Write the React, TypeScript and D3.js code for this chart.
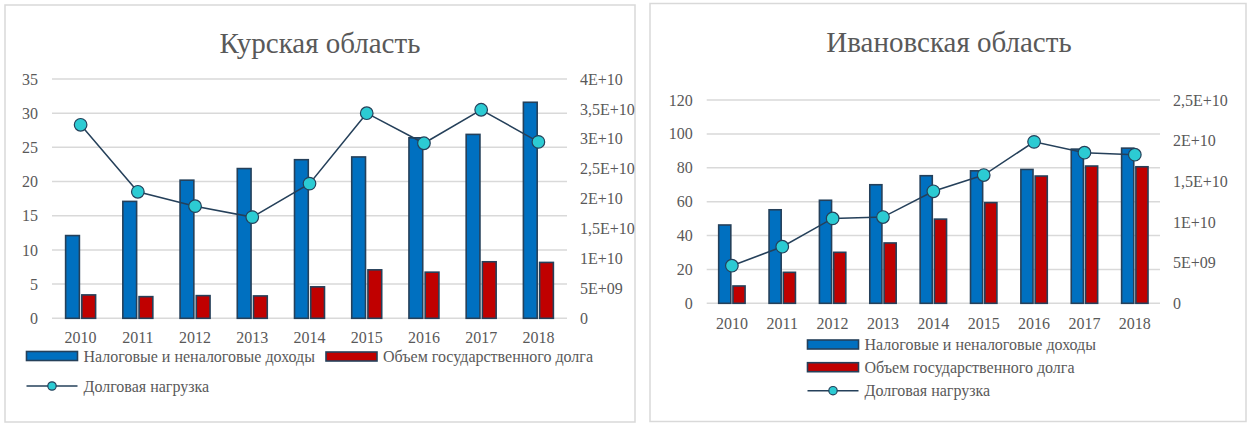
import React from 'react';
import * as d3 from 'd3';

// ---------- data ----------
const years = ['2010', '2011', '2012', '2013', '2014', '2015', '2016', '2017', '2018'];

// Курская область
const kurskTax = [1.383e10, 1.954e10, 2.309e10, 2.503e10, 2.651e10, 2.697e10, 3.017e10, 3.074e10, 3.611e10];
const kurskDebt = [3.91e9, 3.62e9, 3.79e9, 3.74e9, 5.26e9, 8.1e9, 7.71e9, 9.45e9, 9.34e9];
const kurskLoad = [28.3, 18.5, 16.4, 14.8, 19.7, 30.0, 25.6, 30.5, 25.8];

// Ивановская область
const ivanovoTax = [9.63e9, 1.15e10, 1.267e10, 1.458e10, 1.569e10, 1.629e10, 1.646e10, 1.896e10, 1.908e10];
const ivanovoDebt = [2.13e9, 3.81e9, 6.27e9, 7.42e9, 1.035e10, 1.238e10, 1.565e10, 1.688e10, 1.679e10];
const ivanovoLoad = [22.2, 33.4, 50.1, 50.9, 66.1, 75.7, 95.3, 88.9, 87.7];

const seriesNames = ['Налоговые и неналоговые доходы', 'Объем государственного долга', 'Долговая нагрузка'];
const titles = ['Курская область', 'Ивановская область'];

// ---------- styles ----------
const TEXT = '#595959';
const GRID = '#d9d9d9';
const BLUE = '#0070c0';
const RED = '#c00000';
const EDGE = '#25405a';
const CYAN = '#2ccbd3';
const FONT = "'Liberation Serif', 'DejaVu Serif', serif";

function fmtE(v: number): string {
  if (v === 0) return '0';
  const e = Math.floor(Math.log10(v) + 1e-9);
  const m = v / Math.pow(10, e);
  const ms = String(Math.round(m * 10) / 10).replace('.', ',');
  const es = e < 10 ? '0' + e : String(e);
  return `${ms}E+${es}`;
}

type Cfg = {
  title: string;
  titleX: number;
  titleY: number;
  frame: { x: number; y: number; w: number; h: number };
  plot: { left: number; right: number; top: number; bottom: number };
  leftMax: number;
  leftStep: number;
  rightMax: number;
  rightStep: number;
  tax: number[];
  debt: number[];
  load: number[];
  catY: number;
  legend: { x: number; y: number; kind: 'bar' | 'line'; color: string; name: string }[];
};

const txt = (size: number) => ({ fontFamily: FONT, fontSize: size, fill: TEXT });

function Panel({ c }: { c: Cfg }) {
  const x0 = d3
    .scaleBand<string>()
    .domain(years)
    .range([c.plot.left, c.plot.right])
    .paddingInner(0.476)
    .paddingOuter(0.238);
  const x1 = d3.scaleBand<string>().domain(['tax', 'debt']).range([0, x0.bandwidth()]).paddingInner(0.15);
  const yL = d3.scaleLinear().domain([0, c.leftMax]).range([c.plot.bottom, c.plot.top]);
  const yR = d3.scaleLinear().domain([0, c.rightMax]).range([c.plot.bottom, c.plot.top]);
  const leftTicks = d3.range(0, c.leftMax + c.leftStep / 2, c.leftStep);
  const rightTicks = d3.range(0, c.rightMax + c.rightStep / 2, c.rightStep);
  const center = (y: string) => (x0(y) as number) + x0.bandwidth() / 2;
  const line = d3
    .line<number>()
    .x((_, i) => center(years[i]))
    .y((d) => yL(d));

  return (
    <g>
      <rect x={c.frame.x} y={c.frame.y} width={c.frame.w} height={c.frame.h} fill="#fff" stroke={GRID} strokeWidth={1.5} />
      <text x={c.titleX} y={c.titleY} textAnchor="middle" style={txt(29)}>
        {c.title}
      </text>
      {leftTicks.map((t) => (
        <g key={'l' + t}>
          <line x1={c.plot.left} x2={c.plot.right} y1={yL(t)} y2={yL(t)} stroke={GRID} strokeWidth={1.5} />
          <text x={c.plot.left - 14} y={yL(t)} dy="0.35em" textAnchor="end" style={txt(16)}>
            {t}
          </text>
        </g>
      ))}
      {rightTicks.map((t) => (
        <text key={'r' + t} x={c.plot.right + 13} y={yR(t)} dy="0.35em" textAnchor="start" style={txt(16)}>
          {fmtE(t)}
        </text>
      ))}
      {years.map((y, i) => (
        <g key={y}>
          <rect
            x={(x0(y) as number) + (x1('tax') as number)}
            y={yR(c.tax[i])}
            width={x1.bandwidth()}
            height={c.plot.bottom - yR(c.tax[i])}
            fill={BLUE}
            stroke={EDGE}
            strokeWidth={1.6}
          />
          <rect
            x={(x0(y) as number) + (x1('debt') as number)}
            y={yR(c.debt[i])}
            width={x1.bandwidth()}
            height={c.plot.bottom - yR(c.debt[i])}
            fill={RED}
            stroke={EDGE}
            strokeWidth={1.6}
          />
          <text x={center(y)} y={c.catY} dy="0.35em" textAnchor="middle" style={txt(16)}>
            {y}
          </text>
        </g>
      ))}
      <path d={line(c.load) || ''} fill="none" stroke={EDGE} strokeWidth={1.5} />
      {c.load.map((v, i) => (
        <circle key={i} cx={center(years[i])} cy={yL(v)} r={6.3} fill={CYAN} stroke={EDGE} strokeWidth={1.2} />
      ))}
      {c.legend.map((l, i) => (
        <g key={'lg' + i}>
          {l.kind === 'bar' ? (
            <rect x={l.x} y={l.y - 4.5} width={51} height={9} fill={l.color} stroke={EDGE} strokeWidth={1.6} />
          ) : (
            <g>
              <line x1={l.x} x2={l.x + 51} y1={l.y} y2={l.y} stroke={EDGE} strokeWidth={1.5} />
              <circle cx={l.x + 25.5} cy={l.y} r={4.2} fill={CYAN} stroke={EDGE} strokeWidth={1.2} />
            </g>
          )}
          <text x={l.x + 57} y={l.y} dy="0.35em" style={txt(16)}>
            {l.name}
          </text>
        </g>
      ))}
    </g>
  );
}

const kursk: Cfg = {
  title: titles[0],
  titleX: 320,
  titleY: 53,
  frame: { x: 5, y: 5, w: 630, h: 417 },
  plot: { left: 52, right: 567, top: 79, bottom: 318.3 },
  leftMax: 35,
  leftStep: 5,
  rightMax: 4e10,
  rightStep: 5e9,
  tax: kurskTax,
  debt: kurskDebt,
  load: kurskLoad,
  catY: 337,
  legend: [
    { x: 26.5, y: 356, kind: 'bar', color: BLUE, name: seriesNames[0] },
    { x: 326, y: 356.5, kind: 'bar', color: RED, name: seriesNames[1] },
    { x: 26.5, y: 386, kind: 'line', color: CYAN, name: seriesNames[2] },
  ],
};

const ivanovo: Cfg = {
  title: titles[1],
  titleX: 949,
  titleY: 52,
  frame: { x: 650, y: 3.5, w: 596, h: 418 },
  plot: { left: 706.7, right: 1160, top: 100, bottom: 303.3 },
  leftMax: 120,
  leftStep: 20,
  rightMax: 2.5e10,
  rightStep: 5e9,
  tax: ivanovoTax,
  debt: ivanovoDebt,
  load: ivanovoLoad,
  catY: 323,
  legend: [
    { x: 807.5, y: 344.5, kind: 'bar', color: BLUE, name: seriesNames[0] },
    { x: 807.5, y: 367.2, kind: 'bar', color: RED, name: seriesNames[1] },
    { x: 807.5, y: 390.7, kind: 'line', color: CYAN, name: seriesNames[2] },
  ],
};

export default function App() {
  return (
    <svg
      width={1255}
      height={423}
      style={{ position: 'absolute', left: 0, top: 0, background: '#fff' }}
      xmlns="http://www.w3.org/2000/svg"
    >
      <rect x={0} y={0} width={1255} height={423} fill="#fff" />
      <Panel c={kursk} />
      <Panel c={ivanovo} />
    </svg>
  );
}
